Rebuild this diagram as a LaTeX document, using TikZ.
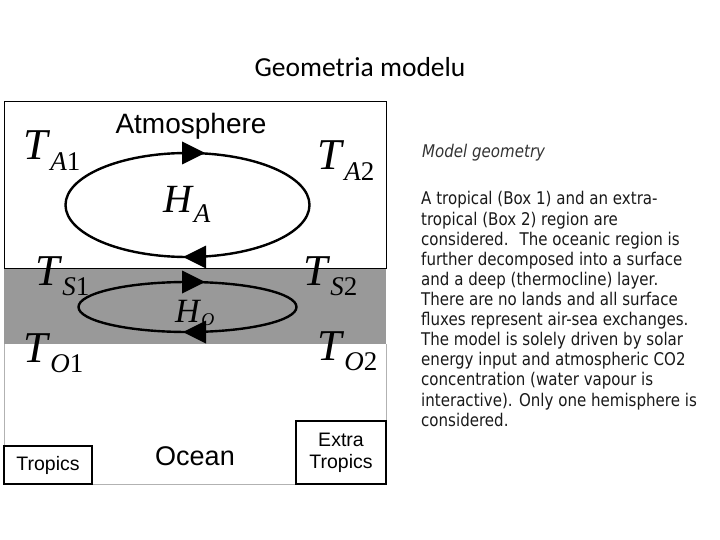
\documentclass[tikz,border=0pt]{standalone}
\usepackage{fontspec}
\setmainfont{Liberation Serif}
\setsansfont{Liberation Sans}
\newfontfamily\titlefont{Carlito}
\newfontfamily\notefont[FakeStretch=0.86]{DejaVu Sans}
\usetikzlibrary{positioning}
\newcommand\fsz[1]{\fontsize{#1}{#1}\selectfont}
\newcommand\Tlab[3]{\textit{#1}\raisebox{-0.23em}{\fsz{27}\textit{#2}#3}}

\begin{document}
\begin{tikzpicture}[x=1pt,y=-1pt,
  sym/.style={font=\fsz{44},inner sep=0pt,anchor=base west},
  lab/.style={font=\sffamily\fsz{27},inner sep=0pt,anchor=base},
  region/.style={draw,line width=1.2pt,font=\sffamily\fontsize{19.5}{22}\selectfont,align=center,inner sep=0pt},
  note/.style={font=\notefont\fsz{17.5},inner sep=0pt,anchor=base west,text=black!90},
  loop/.style={line width=2.4pt}]
\useasboundingbox (0,0) rectangle (720,540);
\node[font=\titlefont\fsz{27.5},anchor=base] (title) at (360,77) {Geometria modelu};
% boxes
\fill[black!40] (4,268) rectangle (386,344);
\draw[black!30] (4,344) -- (4,484) -- (386,484) -- (386,344);
\draw[line width=1pt] (4,102) rectangle (386,268);
\node[lab,font=\sffamily\fsz{28}] (atm) at (191,134) {Atmosphere};
\node[lab] (ocean) at (195,465) {Ocean};
\node[region,minimum width=88,minimum height=38] (trop) at (48,465) {Tropics};
\node[region,minimum width=90,minimum height=63] (xtrop) at (341,452.5) {Extra\\Tropics};
% circulation
\draw[loop] (187.5,205) ellipse [x radius=122, y radius=52];
\draw[loop] (187.5,307) ellipse [x radius=109, y radius=25];
\foreach \x/\y/\d in {205/153/1, 183/257/-1, 205/282/1, 183/332/-1}
  \fill (\x,\y) -- ++(-23*\d,-11.5) -- ++(0,23) -- cycle;
\foreach \nm/\x/\y/\s/\i in {ta1/23/160/A/1, ta2/317/170/A/2, ts1/35/285/S/1, ts2/303/285/S/2, to1/23/362/O/1, to2/317/360/O/2}
  \node[sym] (\nm) at (\x,\y) {\Tlab{T}{\s}{\i}};
\node[sym,font=\fsz{40}] (ha) at (163,213) {\Tlab{H}{A}{}};
\node[sym,font=\fsz{34}] (ho) at (175,322) {\textit{H}\raisebox{-0.1em}{\fsz{18}\textit{O}}};
% text
\node[note,font=\notefont\itshape\fsz{17.5},text=black!80] (head) at (422,158) {Model geometry};
\foreach \ln [count=\i] in {A tropical (Box 1) and an extra-, tropical (Box 2) region are,
  considered.~ The oceanic region is, further decomposed into a surface,
  and a deep (thermocline) layer., There are no lands and all surface,
  fluxes represent air-sea exchanges., The model is solely driven by solar,
  energy input and atmospheric CO2, concentration (water vapour is,
  interactive). Only one hemisphere is, considered.}
  \node[note] (l\i) at (421,{205+20.1*(\i-1)}) {\ln};
\end{tikzpicture}
\end{document}
